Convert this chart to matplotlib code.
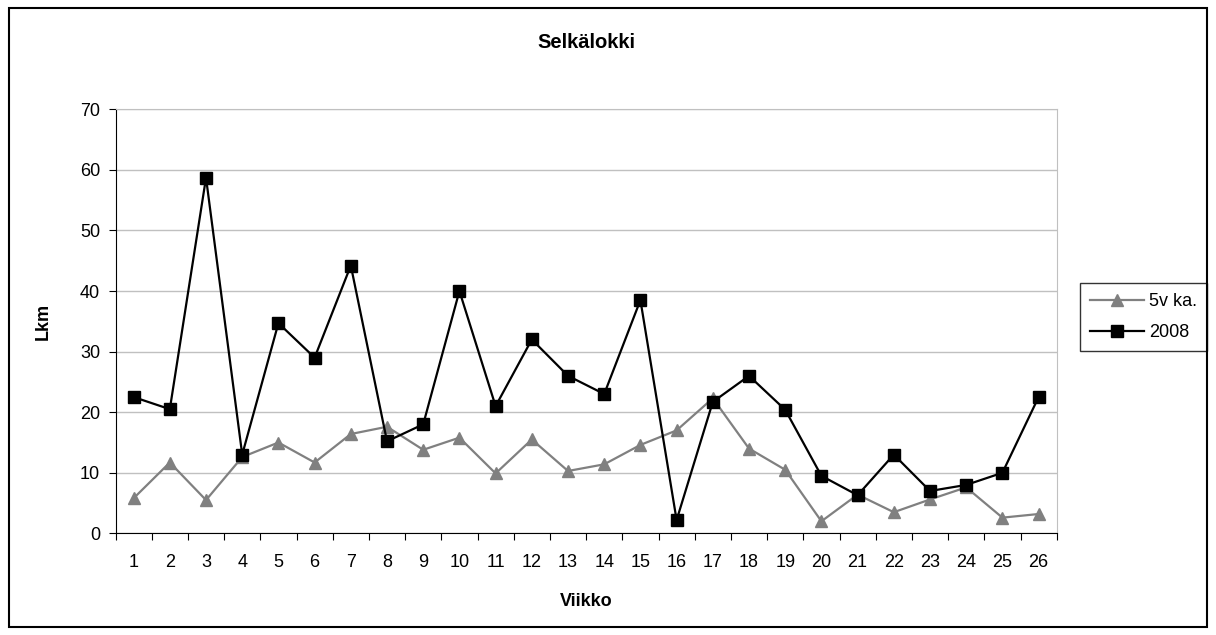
import numpy as np
import matplotlib
matplotlib.use('Agg')
import matplotlib.pyplot as plt
from matplotlib.patches import Rectangle

plt.rcParams['font.family'] = ['Liberation Sans', 'DejaVu Sans']

# Data
weeks = list(range(1, 27))
avg_5v = [5.8, 11.7, 5.5, 12.6, 15.0, 11.7, 16.4, 17.6, 13.8, 15.8, 9.9, 15.5, 10.3,
          11.4, 14.6, 17.0, 22.3, 14.0, 10.5, 2.0, 6.4, 3.5, 5.6, 7.6, 2.6, 3.2]
y2008 = [22.5, 20.5, 58.7, 13.0, 34.7, 29.0, 44.2, 15.2, 18.0, 40.0, 21.0, 32.0, 26.0,
         23.0, 38.5, 2.2, 21.7, 26.0, 20.4, 9.5, 6.3, 13.0, 7.0, 8.0, 10.0, 22.5]

fig = plt.figure(figsize=(12.16, 6.35), dpi=100)
ax = fig.add_axes([0.095, 0.160, 0.774, 0.668])

# outer chart frame
fig.patches.append(Rectangle((0.007, 0.012), 0.986, 0.976, transform=fig.transFigure,
                             fill=False, edgecolor='black', linewidth=1.5))

ax.plot(weeks, avg_5v, color='#808080', marker='^', markersize=9, linewidth=1.6,
        label='5v ka.')
ax.plot(weeks, y2008, color='black', marker='s', markersize=8, linewidth=1.6,
        label='2008')

ax.set_xlim(0.5, 26.5)
ax.set_ylim(0, 70)
ax.set_yticks(range(0, 71, 10))
ax.yaxis.grid(True, color='#c0c0c0', linewidth=1)
ax.set_axisbelow(True)

# category ticks between weeks, labels centered
ax.set_xticks(np.arange(0.5, 27, 1))
ax.set_xticklabels([])
ax.set_xticks(weeks, minor=True)
ax.set_xticklabels([str(w) for w in weeks], minor=True)
ax.tick_params(axis='x', which='minor', length=0, pad=15, labelsize=13)
ax.tick_params(axis='x', which='major', length=5, direction='out')
ax.tick_params(axis='y', length=5, direction='out', labelsize=13, pad=6)

for s in ['top', 'right']:
    ax.spines[s].set_color('#c0c0c0')
for s in ['left', 'bottom']:
    ax.spines[s].set_color('black')

ax.set_title('Selkälokki', fontsize=14.5, fontweight='bold', pad=44)
ax.set_xlabel('Viikko', fontsize=13, fontweight='bold', labelpad=16)
ax.set_ylabel('Lkm', fontsize=13, fontweight='bold', labelpad=20)

leg = ax.legend(loc='center left', bbox_to_anchor=(1.015, 0.51), fontsize=13,
                frameon=True, fancybox=False, edgecolor='black', handlelength=3,
                borderpad=0.55, labelspacing=0.8, handletextpad=0.3)
leg.get_frame().set_linewidth(1)

fig.savefig('out.png', dpi=100)
